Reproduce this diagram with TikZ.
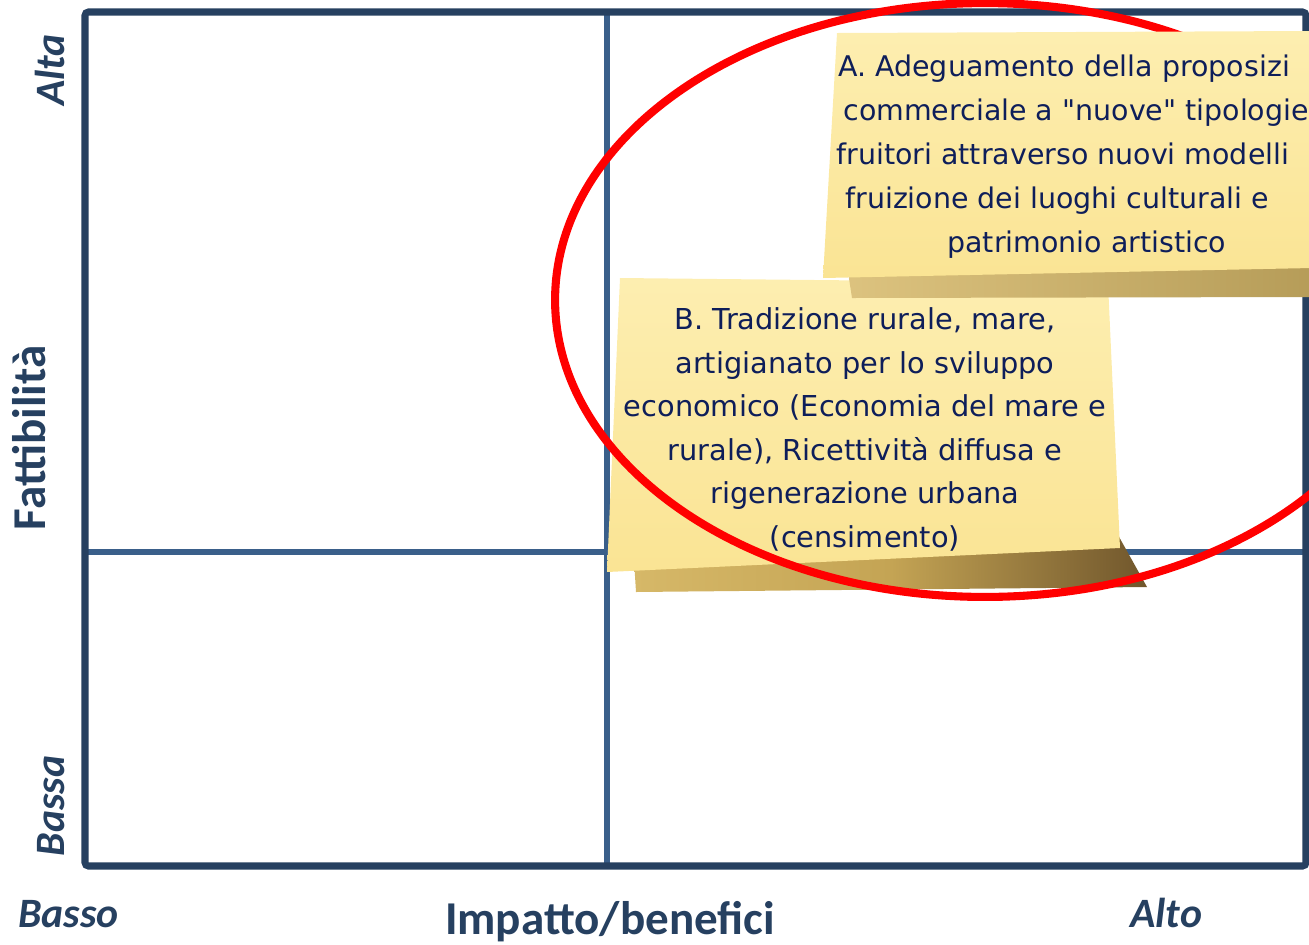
\documentclass[tikz,border=0pt]{standalone}
\usepackage{fontspec}
\newfontfamily\notefont{DejaVu Sans}
\newfontfamily\labfont{Carlito}
\definecolor{framecol}{RGB}{38,64,96}
\definecolor{innercol}{RGB}{58,95,138}
\definecolor{notetxt}{RGB}{14,30,90}
\definecolor{noteTop}{RGB}{253,238,176}
\definecolor{noteBot}{RGB}{250,228,148}
\definecolor{shadowL}{RGB}{214,184,104}
\definecolor{shadowM}{RGB}{196,164,84}
\definecolor{shadowR}{RGB}{112,86,44}
\begin{document}
\begin{tikzpicture}[x=0.02cm,y=-0.02cm,
  frameline/.style={draw=framecol, line width=4pt, rounded corners=2pt},
  innerline/.style={draw=innercol, line width=3.4pt},
  notepaper/.style={top color=noteTop, bottom color=noteBot},
  notetxtA/.style={font=\notefont\fontsize{16.2}{20}\selectfont, text=notetxt, inner sep=0pt, anchor=base west},
  notetxtB/.style={font=\notefont\fontsize{16.4}{20}\selectfont, text=notetxt, inner sep=0pt, anchor=base},
  axislab/.style={font=\labfont\bfseries\fontsize{26.8}{30}\selectfont, text=framecol, inner sep=0pt, anchor=base},
  endlab/.style={font=\labfont\bfseries\itshape\fontsize{23.8}{26}\selectfont, text=framecol, inner sep=0pt},
  ring/.style={draw=red, line width=4.6pt}]
\useasboundingbox (0,0) rectangle (1309,944);
\clip (0,0) rectangle (1309,944);
% grid
\draw[innerline] (607,12) -- (607,866);
\draw[innerline] (85,552) -- (1306,552);
\draw[frameline] (85,12) rectangle (1306,866);
% axis labels
\node[endlab, anchor=base west] (basso) at (18,927) {Basso};
\node[endlab, anchor=base west] (alto) at (1130,927) {Alto};
\node[axislab] (impatto) at (610,934) {Impatto/benefici};
\node[axislab, rotate=90] (fatt) at (45,438) {Fattibilità};
\node[endlab, anchor=base, rotate=90] (alta) at (64,70) {Alta};
\node[endlab, anchor=base, rotate=90] (bassa) at (64,806) {Bassa};
% note B
\shade[left color=shadowL, right color=shadowR, middle color=shadowM] (634,560) -- (1118,535) -- (1147,587) -- (636,592) -- cycle;
\shade[notepaper] (620,278) -- (1108,283) -- (1120,548) -- (607,572) -- cycle;
\node[notetxtB] (b1) at (865,329) {B. Tradizione rurale, mare,};
\node[notetxtB] (b2) at (865,373) {artigianato per lo sviluppo};
\node[notetxtB] (b3) at (865,416) {economico (Economia del mare e};
\node[notetxtB] (b4) at (865,460) {rurale), Ricettività diffusa e};
\node[notetxtB] (b5) at (865,503) {rigenerazione urbana};
\node[notetxtB] (b6) at (865,547) {(censimento)};
% red ring
\draw[ring] (985,300) ellipse [x radius=8.6cm, y radius=5.94cm];
% note A
\shade[left color=shadowL!85!white, right color=shadowL!85!black] (848,272) -- (1312,262) -- (1312,297) -- (852,298) -- cycle;
\shade[notepaper] (837,33) -- (1312,31) -- (1312,268) -- (823,278) -- cycle;
\node[notetxtA] (a1) at (838,76) {A. Adeguamento della proposizi};
\node[notetxtA] (a2) at (843,120) {commerciale a "nuove" tipologie};
\node[notetxtA] (a3) at (836,164) {fruitori attraverso nuovi modelli};
\node[notetxtA] (a4) at (845,208) {fruizione dei luoghi culturali e};
\node[notetxtA] (a5) at (947,252) {patrimonio artistico};
\end{tikzpicture}
\end{document}
